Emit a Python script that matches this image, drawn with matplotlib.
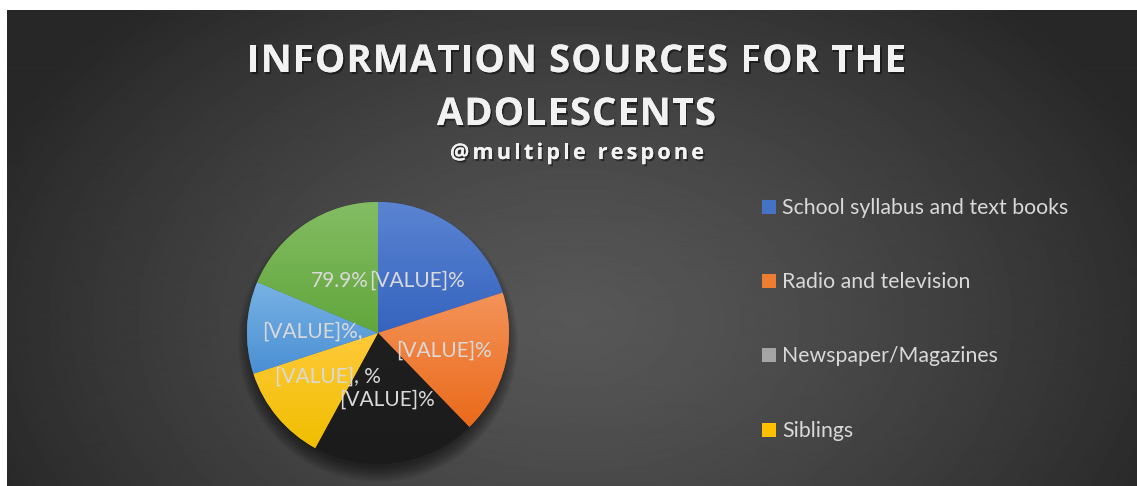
import numpy as np
import matplotlib
matplotlib.use('Agg')
import matplotlib.pyplot as plt
import matplotlib.patheffects as pe
from matplotlib.patches import Circle, Rectangle
from matplotlib.font_manager import FontProperties, findfont
from matplotlib.ft2font import FT2Font
from matplotlib.colors import LinearSegmentedColormap

# data (angles of the slices, green labelled 79.9%)
categories = ['School syllabus and text books', 'Radio and television',
              'Newspaper/Magazines', 'Siblings', 'Friends', 'Parents']
values = [85.7, 75.9, 86.5, 51.5, 48.7, 79.9]
label_texts = ['[VALUE]%', '[VALUE]%', '[VALUE]%', '[VALUE], %', '[VALUE]%,', '79.9%']
legend_shown = 4

# slice gradients (top, bottom) and legend colours
slice_top = ['#5b84d2', '#f4935a', '#1f1f1f', '#ffca3a', '#78b2e3', '#84bd64']
slice_bot = ['#3564bf', '#ea6a1a', '#1b1b1b', '#f0be00', '#4a8fd4', '#62a63c']
legend_colors = ['#4472c4', '#ed7d31', '#a5a5a5', '#ffc000']

# label positions inside the pie, in radius units
label_pos = [(0.30, 0.40), (0.50, -0.135), (0.066, -0.51),
             (-0.38, -0.33), (-0.50, 0.01), (-0.29, 0.40)]

W, H = 1137, 486
fig = plt.figure(figsize=(W / 100, H / 100), dpi=100, facecolor='white')

# background axes in pixel coordinates
ax = fig.add_axes([0, 0, 1, 1], zorder=0)
ax.set_xlim(0, W)
ax.set_ylim(H, 0)
ax.axis('off')

x0, y0 = 7, 11
yy, xx = np.mgrid[y0:H, x0:W]
r = np.sqrt(((xx - 575) / 640.0) ** 2 + ((yy - 320) / 430.0) ** 2)
r = np.clip(r, 0, 1)
shade = (0x57 - (0x57 - 0x27) * r ** 1.3) / 255.0
ax.imshow(shade, cmap='gray', vmin=0, vmax=1, extent=[x0, W, H, y0],
          interpolation='bilinear', aspect='auto')


def spaced_text(ax, s, cx, y, width, prop, **kw):
    # draw text char by char so the letter spacing fills the given width
    font = FT2Font(findfont(prop))
    font.set_size(prop.get_size_in_points(), 100)
    adv = [font.load_char(ord(c)).linearHoriAdvance / 65536.0 for c in s]
    gap = (width - sum(adv)) / (len(s) - 1)
    x = cx - width / 2.0
    for c, a in zip(s, adv):
        if c != ' ':
            ax.text(x, y, c, fontproperties=prop, ha='left', va='baseline', **kw)
        x += a + gap


shadow = [pe.withSimplePatchShadow(offset=(1.2, -1.5), shadow_rgbFace='black', alpha=0.45),
          pe.Normal()]
title_prop = FontProperties(family='Open Sans', weight='bold', size=27.5)
spaced_text(ax, 'INFORMATION SOURCES FOR THE', 576.5, 72, 659, title_prop,
            color='#f2f2f2', path_effects=shadow)
spaced_text(ax, 'ADOLESCENTS', 576.5, 125, 279, title_prop,
            color='#f2f2f2', path_effects=shadow)
sub_prop = FontProperties(family='Open Sans', weight='bold', size=15.5)
spaced_text(ax, '@multiple respone', 577, 159, 254, sub_prop,
            color='#f2f2f2', path_effects=shadow)

# legend (only the first four entries fit in the chart)
for i in range(legend_shown):
    ly = 207 + i * 74.2
    ax.add_patch(Rectangle((762, ly - 7), 14, 14, facecolor=legend_colors[i],
                           edgecolor='none'))
    ax.text(782, ly + 1, categories[i], fontsize=15.3, family='Lato',
            color='#d9d9d9', ha='left', va='center')

# pie axes: centre (378, 333), radius 131 px
cx, cy, R = 378, 333, 131
axp = fig.add_axes([(cx - R) / W, (H - cy - R) / H, 2 * R / W, 2 * R / H], zorder=1)
axp.set_xlim(-1, 1)
axp.set_ylim(-1, 1)
axp.axis('off')

# soft shadow under the pie, mostly below it
for k in range(10):
    axp.add_patch(Circle((0.0, -0.07), 0.96 + 0.012 * k, facecolor='black',
                         edgecolor='none', alpha=0.06, zorder=0, clip_on=False))

wedges, _ = axp.pie(values, startangle=90, counterclock=False, radius=1,
                    colors=slice_bot, wedgeprops=dict(linewidth=0))
for w, c1, c2 in zip(wedges, slice_top, slice_bot):
    w.set_zorder(1)
    bb = w.get_path().get_extents()
    cmap = LinearSegmentedColormap.from_list('g', [c2, c1])
    grad = np.linspace(0, 1, 100).reshape(-1, 1)
    im = axp.imshow(grad, cmap=cmap, origin='lower', aspect='auto',
                    extent=[bb.x0, bb.x1, bb.y0, bb.y1], zorder=2)
    im.set_clip_path(w)
axp.set_xlim(-1, 1)
axp.set_ylim(-1, 1)

for txt, (lx, ly) in zip(label_texts, label_pos):
    axp.text(lx, ly, txt, fontsize=15, family='Lato', color='#d9d9d9',
             ha='center', va='center', zorder=5)

fig.savefig('out.png', dpi=100, facecolor='white')
